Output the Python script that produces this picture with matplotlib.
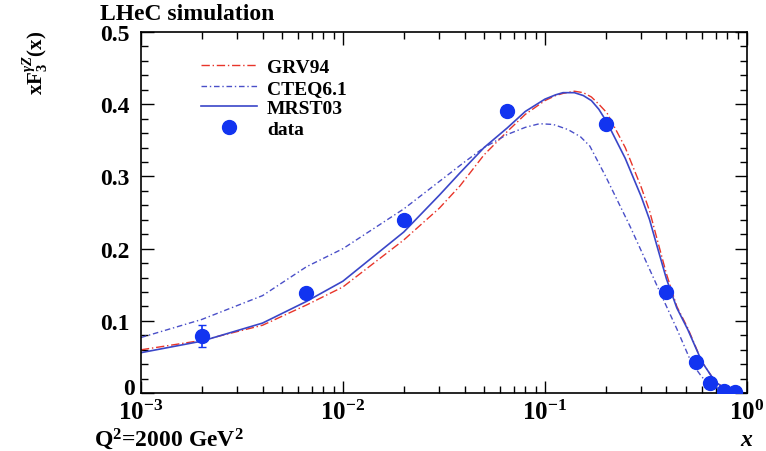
import numpy as np
import matplotlib
matplotlib.use('agg')
import matplotlib.pyplot as plt
import matplotlib.transforms as mtrans
from matplotlib.ticker import FixedLocator, MultipleLocator, NullFormatter

plt.rcParams['font.family'] = ['Liberation Serif', 'DejaVu Serif']
plt.rcParams['mathtext.fontset'] = 'custom'
plt.rcParams['mathtext.rm'] = 'Liberation Serif:bold'
plt.rcParams['mathtext.it'] = 'Liberation Serif:italic:bold'
plt.rcParams['mathtext.bf'] = 'Liberation Serif:bold'

## curves
x_grv = [0.001, 0.002, 0.004, 0.0066, 0.01, 0.02, 0.03, 0.038, 0.05, 0.065, 0.08, 0.1, 0.113, 0.123, 0.14, 0.155,
         0.17, 0.185, 0.203, 0.25, 0.3, 0.33, 0.358, 0.40, 0.45, 0.51, 0.60, 0.70, 0.82, 1.0]
y_grv = [0.060, 0.073, 0.094, 0.122, 0.147, 0.212, 0.256, 0.287, 0.330, 0.362, 0.386, 0.405, 0.412, 0.415, 0.418,
         0.416, 0.410, 0.400, 0.388, 0.340, 0.285, 0.252, 0.215, 0.165, 0.120, 0.090, 0.043, 0.015, 0.003, 0.0]

x_mrst = x_grv
y_mrst = [0.056, 0.072, 0.097, 0.127, 0.155, 0.223, 0.274, 0.305, 0.340, 0.367, 0.390, 0.407, 0.413, 0.416, 0.416,
          0.412, 0.405, 0.393, 0.375, 0.325, 0.272, 0.240, 0.205, 0.158, 0.118, 0.088, 0.043, 0.015, 0.003, 0.0]

x_cteq = [0.001, 0.002, 0.004, 0.0066, 0.01, 0.02, 0.03, 0.04, 0.05, 0.065, 0.08, 0.094, 0.11, 0.13, 0.15, 0.167,
          0.2, 0.264, 0.3, 0.371, 0.45, 0.53, 0.6, 0.7, 0.8, 1.0]
y_cteq = [0.077, 0.102, 0.135, 0.175, 0.200, 0.255, 0.293, 0.320, 0.340, 0.358, 0.368, 0.373, 0.372, 0.365, 0.355,
          0.342, 0.300, 0.231, 0.197, 0.140, 0.089, 0.043, 0.022, 0.008, 0.002, 0.0]

# pseudo data
x_data = [0.002, 0.0066, 0.020, 0.065, 0.20, 0.40, 0.56, 0.66, 0.77, 0.87]
y_data = [0.079, 0.138, 0.240, 0.390, 0.372, 0.140, 0.043, 0.014, 0.003, 0.001]
e_data = [0.015, 0.005, 0.005, 0.005, 0.006, 0.005, 0.003, 0.002, 0.001, 0.001]

y_ticks = [0, 0.1, 0.2, 0.3, 0.4, 0.5]
y_tick_labels = ['0', '0.1', '0.2', '0.3', '0.4', '0.5']
x_ticks = [1e-3, 1e-2, 1e-1, 1e0]
x_tick_labels = ['$10^{-3}$', '$10^{-2}$', '$10^{-1}$', '$10^{0}$']

fig = plt.figure(figsize=(7.66, 4.52), dpi=100)
ax = fig.add_axes([0.184, 0.128, 0.791, 0.799])

ax.plot(x_grv, y_grv, color='#e8352a', ls=(0, (6, 2, 1, 2)), lw=1.0, label='GRV94')
ax.plot(x_cteq, y_cteq, color='#4a4fc8', ls=(0, (4, 2, 1, 2)), lw=1.0, label='CTEQ6.1')
ax.plot(x_mrst, y_mrst, color='#3a46c8', ls='-', lw=1.2, label='MRST03')
ax.errorbar(x_data, y_data, yerr=e_data, fmt='none', ecolor='#1234f0', elinewidth=1.2, capsize=3, zorder=5)
ax.plot(x_data, y_data, 'o', color='#1234f0', ms=10, label='data', zorder=6)

ax.set_xscale('log')
ax.set_xlim(1e-3, 1.0)
ax.set_ylim(0, 0.5)
ax.yaxis.set_major_locator(FixedLocator(y_ticks))
ax.yaxis.set_minor_locator(MultipleLocator(0.02))
ax.xaxis.set_major_locator(FixedLocator(x_ticks))
ax.set_xticklabels(x_tick_labels)
ax.set_yticklabels(y_tick_labels)
ax.xaxis.set_minor_formatter(NullFormatter())
ax.tick_params(which='both', direction='in', top=True, right=True, labelsize=17, width=1.0)
ax.tick_params(axis='x', labelsize=18, pad=5)
ax.tick_params(which='major', length=9)
ax.tick_params(which='minor', length=5)
ax.tick_params(axis='y', pad=8)
for lab in ax.get_xticklabels() + ax.get_yticklabels():
    lab.set_fontweight('bold')
# ROOT puts the "0" just above the 10^-3 label
zero_lab = ax.get_yticklabels()[0]
zero_lab.set_transform(zero_lab.get_transform() + mtrans.ScaledTranslation(0.05, 0.07, fig.dpi_scale_trans))
for s in ax.spines.values():
    s.set_linewidth(1.2)

h, l = ax.get_legend_handles_labels()
leg = ax.legend(h, l, loc='upper left', bbox_to_anchor=(0.07, 0.975), frameon=False, fontsize=14,
                handlelength=2.9, labelspacing=0.15, handletextpad=0.5)
for t in leg.get_texts():
    t.set_fontweight('bold')

fig.text(0.13, 0.955, 'LHeC simulation', fontsize=17, fontweight='bold', ha='left')
fig.text(0.047, 0.86, r'xF$_3^{\gamma Z}$(x)', rotation=90, fontsize=15, fontweight='bold', ha='center', va='center')
fig.text(0.123, 0.013, r'Q$^2$=2000 GeV$^2$', fontsize=17, fontweight='bold', ha='left', va='baseline')
fig.text(0.975, 0.013, r'$x$', fontsize=17, ha='center', va='baseline')

plt.savefig('out.png', dpi=100)
